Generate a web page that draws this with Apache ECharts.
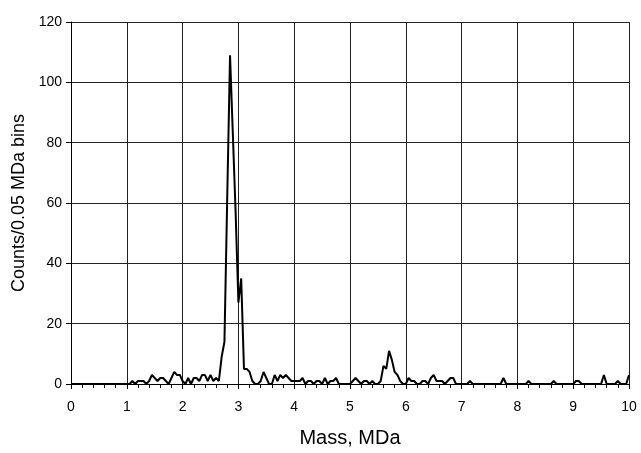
<!DOCTYPE html>
<html>
<head>
<meta charset="utf-8">
<script src="https://cdn.jsdelivr.net/npm/echarts@6/dist/echarts.min.js"></script>
<style>
  html, body { margin: 0; padding: 0; background: #fff; }
  #chart { width: 641px; height: 453px; }
</style>
</head>
<body>
<div id="chart"></div>
<script>
// histogram of masses, 0.05 MDa bins starting at 0
var binWidth = 0.05;
var counts = [
  0, 0, 0, 0, 0, 0, 0, 0, 0, 0,      // 0.00 - 0.45
  0, 0, 0, 0, 0, 0, 0, 0, 0, 0,      // 0.50 - 0.95
  0, 0, 1, 0, 1, 1, 1, 0, 1, 3,      // 1.00 - 1.45
  2, 1, 2, 2, 1, 0, 2, 4, 3, 3,      // 1.50 - 1.95
  1, 0, 2, 0, 2, 2, 1, 3, 3, 1,      // 2.00 - 2.45
  3, 1, 2, 1, 9, 14, 62, 109, 83, 57, // 2.50 - 2.95
  27, 35, 5, 5, 4, 1, 0, 0, 1, 4,    // 3.00 - 3.45
  2, 0, 0, 3, 1, 3, 2, 3, 2, 1,      // 3.50 - 3.95
  1, 1, 1, 2, 0, 1, 1, 0, 1, 1,      // 4.00 - 4.45
  0, 2, 0, 1, 1, 2, 0, 0, 0, 0,      // 4.50 - 4.95
  0, 1, 2, 1, 0, 1, 1, 0, 1, 0,      // 5.00 - 5.45
  0, 1, 6, 5, 11, 8, 4, 3, 1, 0,     // 5.50 - 5.95
  0, 2, 1, 1, 0, 0, 1, 1, 0, 2,      // 6.00 - 6.45
  3, 1, 1, 1, 0, 1, 2, 2, 0, 0,      // 6.50 - 6.95
  0, 0, 0, 1, 0, 0, 0, 0, 0, 0,      // 7.00 - 7.45
  0, 0, 0, 0, 0, 2, 0, 0, 0, 0,      // 7.50 - 7.95
  0, 0, 0, 0, 1, 0, 0, 0, 0, 0,      // 8.00 - 8.45
  0, 0, 0, 1, 0, 0, 0, 0, 0, 0,      // 8.50 - 8.95
  0, 1, 1, 0, 0, 0, 0, 0, 0, 0,      // 9.00 - 9.45
  0, 3, 0, 0, 0, 0, 1, 0, 0, 0,      // 9.50 - 9.95
  3                                  // 10.00
];
var xTicks = [0, 1, 2, 3, 4, 5, 6, 7, 8, 9, 10];
var yTicks = [0, 20, 40, 60, 80, 100, 120];

var points = counts.map(function (c, i) {
  return [+(i * binWidth).toFixed(2), c];
});

var myChart = echarts.init(document.getElementById('chart'));

var font = 'Liberation Sans, Arial, sans-serif';

var option = {
  animation: false,
  backgroundColor: '#fff',
  grid: { left: 71, right: 12, top: 22, bottom: 68 },
  xAxis: {
    type: 'value',
    min: xTicks[0],
    max: xTicks[xTicks.length - 1],
    interval: 1,
    name: 'Mass, MDa',
    nameLocation: 'middle',
    nameGap: 44,
    nameTextStyle: { fontFamily: font, fontSize: 20, color: '#000' },
    axisLine: { lineStyle: { color: '#000', width: 1 } },
    axisTick: { show: true, length: 5, lineStyle: { color: '#000' } },
    minorTick: { show: true, splitNumber: 5, length: 4, lineStyle: { color: '#000' } },
    axisLabel: { fontFamily: font, fontSize: 14, color: '#000', margin: 16 },
    splitLine: { show: true, lineStyle: { color: '#222', width: 1 } }
  },
  yAxis: {
    type: 'value',
    min: yTicks[0],
    max: yTicks[yTicks.length - 1],
    interval: 20,
    name: 'Counts/0.05 MDa bins',
    nameLocation: 'middle',
    nameGap: 41,
    nameTextStyle: { fontFamily: font, fontSize: 18, color: '#000' },
    axisLine: { show: true, lineStyle: { color: '#000', width: 1 } },
    axisTick: { show: true, length: 5, lineStyle: { color: '#000' } },
    axisLabel: { fontFamily: font, fontSize: 14, color: '#000', margin: 9 },
    splitLine: { show: true, lineStyle: { color: '#222', width: 1 } }
  },
  series: [{
    type: 'line',
    data: points,
    showSymbol: false,
    lineStyle: { color: '#000', width: 2 },
    z: 5
  }]
};

myChart.setOption(option);
</script>
</body>
</html>
